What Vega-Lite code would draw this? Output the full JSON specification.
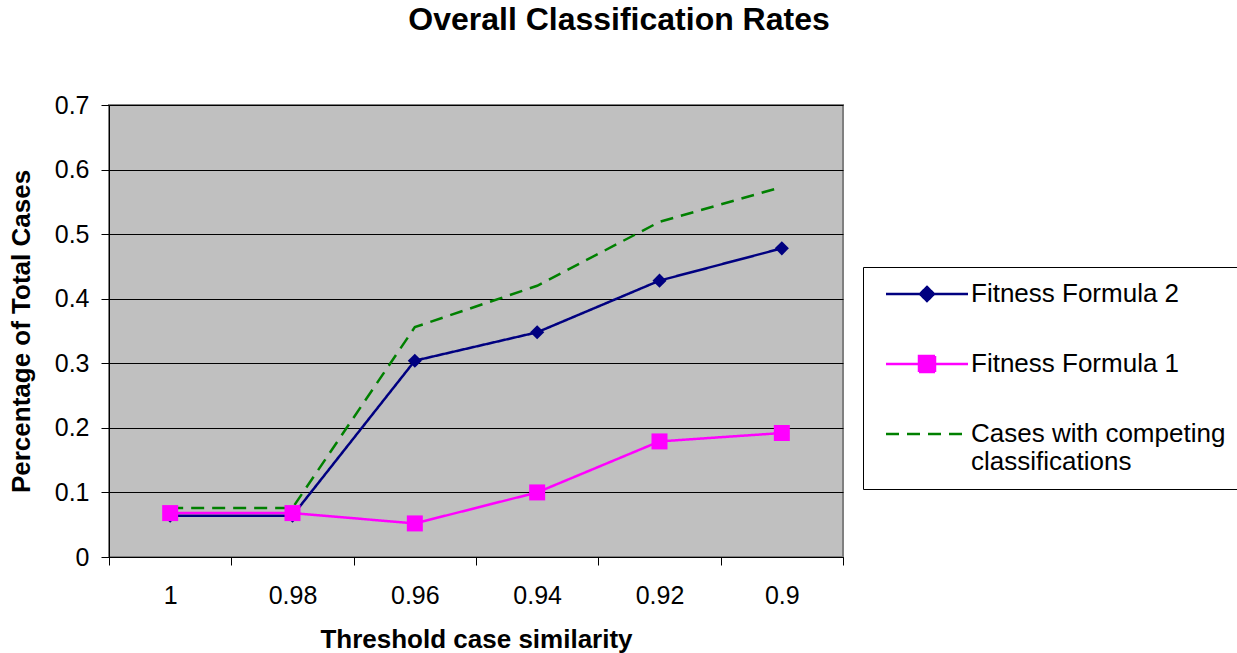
{
  "$schema": "https://vega.github.io/schema/vega-lite/v6.json",
  "width": 734,
  "height": 452,
  "autosize": "none",
  "padding": {"left": 109, "top": 105, "right": 394, "bottom": 96},
  "background": "white",
  "config": {
    "font": "Liberation Sans",
    "view": {"fill": "#c0c0c0", "stroke": "#808080", "strokeWidth": 2}
  },
  "title": {
    "text": "Overall Classification Rates",
    "fontSize": 32,
    "fontWeight": "bold",
    "color": "black",
    "anchor": "middle",
    "dx": 143,
    "offset": 56
  },
  "data": {
    "values": [
      {"threshold": "1", "series": "Fitness Formula 2", "rate": 0.064},
      {"threshold": "0.98", "series": "Fitness Formula 2", "rate": 0.064},
      {"threshold": "0.96", "series": "Fitness Formula 2", "rate": 0.304},
      {"threshold": "0.94", "series": "Fitness Formula 2", "rate": 0.348},
      {"threshold": "0.92", "series": "Fitness Formula 2", "rate": 0.428},
      {"threshold": "0.9", "series": "Fitness Formula 2", "rate": 0.478},
      {"threshold": "1", "series": "Fitness Formula 1", "rate": 0.068},
      {"threshold": "0.98", "series": "Fitness Formula 1", "rate": 0.068},
      {"threshold": "0.96", "series": "Fitness Formula 1", "rate": 0.052},
      {"threshold": "0.94", "series": "Fitness Formula 1", "rate": 0.1},
      {"threshold": "0.92", "series": "Fitness Formula 1", "rate": 0.179},
      {"threshold": "0.9", "series": "Fitness Formula 1", "rate": 0.192},
      {"threshold": "1", "series": "Cases with competing classifications", "rate": 0.076},
      {"threshold": "0.98", "series": "Cases with competing classifications", "rate": 0.076},
      {"threshold": "0.96", "series": "Cases with competing classifications", "rate": 0.356},
      {"threshold": "0.94", "series": "Cases with competing classifications", "rate": 0.42},
      {"threshold": "0.92", "series": "Cases with competing classifications", "rate": 0.519},
      {"threshold": "0.9", "series": "Cases with competing classifications", "rate": 0.573}
    ]
  },
  "encoding": {
    "x": {
      "field": "threshold",
      "type": "ordinal",
      "sort": ["1", "0.98", "0.96", "0.94", "0.92", "0.9"],
      "bandPosition": 0.5,
      "scale": {"type": "band", "paddingInner": 0, "paddingOuter": 0},
      "axis": {
        "title": "Threshold case similarity",
        "titleFontSize": 26,
        "titleFontWeight": "bold",
        "titleColor": "black",
        "titlePadding": 18,
        "labelFontSize": 25,
        "labelColor": "black",
        "labelAngle": 0,
        "labelPadding": 18,
        "tickBand": "extent",
        "tickSize": 8,
        "tickColor": "black",
        "domainColor": "black",
        "grid": false
      }
    },
    "y": {
      "field": "rate",
      "type": "quantitative",
      "scale": {"domain": [0, 0.7], "nice": false},
      "axis": {
        "title": "Percentage of Total Cases",
        "titleFontSize": 26,
        "titleFontWeight": "bold",
        "titleColor": "black",
        "titlePadding": 20,
        "labelFontSize": 25,
        "labelColor": "black",
        "labelPadding": 12,
        "values": [0, 0.1, 0.2, 0.3, 0.4, 0.5, 0.6, 0.7],
        "format": "~g",
        "tickSize": 8,
        "tickColor": "black",
        "domainColor": "black",
        "grid": true,
        "gridColor": "black",
        "gridOpacity": 1,
        "gridWidth": 1
      }
    },
    "color": {
      "field": "series",
      "type": "nominal",
      "scale": {
        "domain": ["Fitness Formula 2", "Fitness Formula 1", "Cases with competing classifications"],
        "range": ["#000080", "#ff00ff", "#008000"]
      },
      "legend": {
        "orient": "none",
        "legendX": 754,
        "legendY": 162,
        "title": null,
        "padding": 14,
        "strokeColor": "black",
        "fillColor": "white",
        "labelFontSize": 26,
        "labelColor": "black",
        "labelLimit": 400,
        "labelOffset": 68,
        "labelExpr": "datum.label == 'Cases with competing classifications' ? ['Cases with competing', 'classifications'] : datum.label",
        "symbolSize": 400,
        "symbolStrokeWidth": 2,
        "rowPadding": 44,
        "encode": {
          "symbols": {
            "update": {
              "shape": {"signal": "datum.value == 'Fitness Formula 2' ? 'M-0.4,0L7.8,0M3.7,-0.7L4.4,0L3.7,0.7L3,0Z' : datum.value == 'Fitness Formula 1' ? 'M-0.4,0L7.8,0M2.9,-0.8L4.5,-0.8L4.5,0.8L2.9,0.8Z' : 'M-0.4,0L7.8,0'"},
              "strokeDash": {"signal": "datum.value == 'Cases with competing classifications' ? [14, 9] : [1, 0]"},
              "fill": {"signal": "datum.value == 'Fitness Formula 2' ? '#000080' : datum.value == 'Fitness Formula 1' ? '#ff00ff' : 'transparent'"},
              "stroke": {"signal": "datum.value == 'Fitness Formula 2' ? '#000080' : datum.value == 'Fitness Formula 1' ? '#ff00ff' : '#008000'"},
              "strokeWidth": {"signal": "datum.value == 'Cases with competing classifications' ? 3 : 2"},
              "opacity": {"value": 1}
            }
          }
        }
      }
    }
  },
  "layer": [
    {
      "mark": {"type": "line"},
      "encoding": {
        "strokeDash": {
          "field": "series",
          "type": "nominal",
          "scale": {
            "domain": ["Fitness Formula 2", "Fitness Formula 1", "Cases with competing classifications"],
            "range": [[1, 0], [1, 0], [13, 8]]
          },
          "legend": null
        },
        "strokeWidth": {
          "field": "series",
          "type": "nominal",
          "scale": {
            "domain": ["Fitness Formula 2", "Fitness Formula 1", "Cases with competing classifications"],
            "range": [2.5, 2.5, 3]
          },
          "legend": null
        }
      }
    },
    {
      "transform": [{"filter": "datum.series != 'Cases with competing classifications'"}],
      "mark": {"type": "point", "filled": true, "opacity": 1},
      "encoding": {
        "shape": {
          "field": "series",
          "type": "nominal",
          "scale": {
            "domain": ["Fitness Formula 2", "Fitness Formula 1"],
            "range": ["diamond", "square"]
          },
          "legend": null
        },
        "size": {
          "field": "series",
          "type": "nominal",
          "scale": {
            "domain": ["Fitness Formula 2", "Fitness Formula 1"],
            "range": [200, 256]
          },
          "legend": null
        }
      }
    }
  ]
}
